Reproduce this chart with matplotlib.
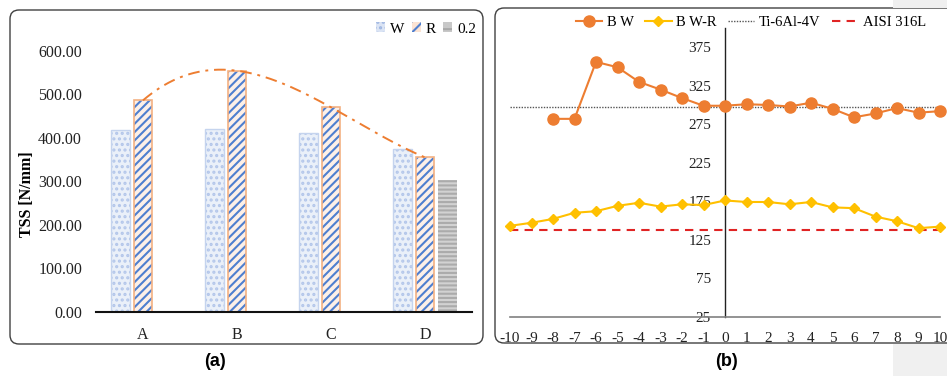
import numpy as np
import matplotlib
matplotlib.use("Agg")
import matplotlib.pyplot as plt
import matplotlib.patches as mpatches
from matplotlib.lines import Line2D
from matplotlib.transforms import IdentityTransform

plt.rcParams["font.family"] = ["Liberation Serif", "DejaVu Serif"]
plt.rcParams["hatch.linewidth"] = 1.5
plt.rcParams["axes.unicode_minus"] = False

# ---- data (a)
categories = ["A", "B", "C", "D"]
w_vals = [418, 420, 412, 374]
r_vals = [486, 554, 470, 355]
p02_vals = [None, None, None, 302]
bar_legend = ["W", "R", "0.2"]

# ---- data (b)
positions = list(range(-10, 11))
bw_x = list(range(-8, 11))
bw_vals = [282, 282, 356, 349, 330, 320, 309, 299, 299, 301, 300, 298, 303,
           295, 284, 289, 296, 290, 292]
bwr_vals = [143, 147, 152, 160, 162, 169, 173, 168, 171, 170, 176, 174, 174,
            171, 174, 167, 166, 155, 149, 140, 142]
ti_level = 297
aisi_level = 138
line_labels = ["B W", "B W-R", "Ti-6Al-4V", "AISI 316L"]

W, H = 947, 376
fig = plt.figure(figsize=(W / 100, H / 100), dpi=100)

# panel frames + page background strip on the right
fig.patches.append(mpatches.FancyBboxPatch((10, 32), 473, 334, boxstyle="round,pad=0,rounding_size=9",
                                           transform=IdentityTransform(), facecolor="none",
                                           edgecolor="#404040", linewidth=1.0))
fig.patches.append(mpatches.FancyBboxPatch((495, 33), 540, 335, boxstyle="round,pad=0,rounding_size=9",
                                           transform=IdentityTransform(), facecolor="none",
                                           edgecolor="#404040", linewidth=1.0))
for (x0, y0, w, h) in [(893, 368.5, 60, 10), (893, 0, 60, 32.5)]:
    fig.patches.append(mpatches.Rectangle((x0, y0), w, h, transform=IdentityTransform(),
                                          facecolor="#f0f0f0", edgecolor="none"))

# ---------------- (a) bar chart
ax1 = fig.add_axes([96 / W, 1 - 312 / H, 376 / W, (312 - 50.7) / H])
x = np.arange(len(categories))
bw = 0.195
off = 0.238

ax1.bar(x - off, w_vals, bw, color="#eaf0f9", edgecolor="#b3c6ea", hatch="...", linewidth=0)
ax1.bar(x - off, w_vals, bw, fill=False, edgecolor="#c5d4ee", linewidth=1.0)
ax1.bar(x, r_vals, bw, color="#fdf0e8", edgecolor="#4f7fcf", hatch="////", linewidth=0)
ax1.bar(x, r_vals, bw, fill=False, edgecolor="#f4b183", linewidth=1.2)
px = [xi + off for xi, v in zip(x, p02_vals) if v is not None]
pv = [v for v in p02_vals if v is not None]
ax1.bar(px, pv, bw, color="#d2d2d2", edgecolor="#ababab", hatch="----", linewidth=0)

# polynomial trendline through R
coef = np.polyfit(x, r_vals, 3)
xt = np.linspace(0, 3, 200)
ax1.plot(xt, np.polyval(coef, xt), color="#ed7d31", linewidth=1.4,
         linestyle=(0, (6, 3, 1.5, 3)))

ax1.set_xlim(-0.5, 3.5)
ax1.set_ylim(0, 600)
ax1.set_yticks(np.arange(0, 601, 100))
ax1.set_yticklabels([f"{v:.2f}" for v in np.arange(0, 601, 100)])
ax1.set_xticks(x)
ax1.set_xticklabels(categories)
ax1.tick_params(axis="both", length=0, labelsize=11.5, colors="#222222")
ax1.tick_params(axis="y", pad=10)
ax1.tick_params(axis="x", pad=11)
for s in ["top", "right", "left"]:
    ax1.spines[s].set_visible(False)
ax1.spines["bottom"].set_linewidth(1.5)
ax1.spines["bottom"].set_color("#111111")
ax1.set_ylabel("TSS [N/mm]", fontsize=11.5, fontweight="bold")
ax1.yaxis.set_label_coords(-0.162, 0.45)

h_w = mpatches.Patch(facecolor="#dbe4f4", edgecolor="#9fb6e2", hatch="...", linewidth=0)
h_r = mpatches.Patch(facecolor="#fbe3d3", edgecolor="#4f7fcf", hatch="///", linewidth=0)
h_p = mpatches.Patch(facecolor="#c8c8c8", edgecolor="#a8a8a8", hatch="--", linewidth=0)
fig.legend([h_w, h_r, h_p], bar_legend, loc="center", bbox_to_anchor=(426 / W, 1 - 29 / H),
           ncol=3, frameon=False, fontsize=11, handlelength=0.6, handleheight=0.6,
           handletextpad=0.3, columnspacing=0.5)

# ---------------- (b) line chart
ax2 = fig.add_axes([510 / W, 1 - 316.7 / H, 430 / W, (316.7 - 28) / H])
ax2.plot(bw_x, bw_vals, color="#ed7d31", marker="o", markersize=8, linewidth=1.5, clip_on=False, zorder=4)
ax2.plot(positions, bwr_vals, color="#ffc000", marker="D", markersize=5, linewidth=1.5, clip_on=False, zorder=3)
ax2.plot([positions[0], positions[-1]], [ti_level, ti_level], color="#555555", linestyle=(0, (1, 1)), linewidth=1.0)
ax2.plot([positions[0], positions[-1]], [aisi_level, aisi_level], color="#e02424", linestyle=(0, (4, 3)), linewidth=1.5)

ax2.set_xlim(-10, 10)
ax2.set_ylim(25, 400)
ax2.set_xticks(positions)
ax2.set_yticks(np.arange(25, 376, 50))
ax2.spines["left"].set_position(("data", 0))
ax2.spines["left"].set_color("#222222")
ax2.spines["left"].set_linewidth(1.0)
ax2.spines["bottom"].set_color("#808080")
ax2.spines["bottom"].set_linewidth(1.2)
for s in ["top", "right"]:
    ax2.spines[s].set_visible(False)
ax2.tick_params(axis="both", length=0, labelsize=11, colors="#222222")
ax2.tick_params(axis="y", pad=10)
ax2.tick_params(axis="x", pad=11)

hb = [Line2D([], [], color="#ed7d31", marker="o", markersize=8, linewidth=1.5),
      Line2D([], [], color="#ffc000", marker="D", markersize=5, linewidth=1.5),
      Line2D([], [], color="#555555", linestyle=(0, (1, 1)), linewidth=1.0),
      Line2D([], [], color="#e02424", linestyle=(0, (4, 3)), linewidth=1.5)]
fig.legend(hb, line_labels, loc="center", bbox_to_anchor=(751 / W, 1 - 22 / H), ncol=4,
           frameon=False, fontsize=10.5, handlelength=1.8, handletextpad=0.3, columnspacing=0.8)

# panel captions
fig.text(215 / W, 1 - 362 / H, "(a)", ha="center", va="center", fontsize=13, fontweight="bold",
         family=["Liberation Sans", "DejaVu Sans"])
fig.text(726 / W, 1 - 362 / H, "(b)", ha="center", va="center", fontsize=13, fontweight="bold",
         family=["Liberation Sans", "DejaVu Sans"])

fig.savefig("out.png", dpi=100)
